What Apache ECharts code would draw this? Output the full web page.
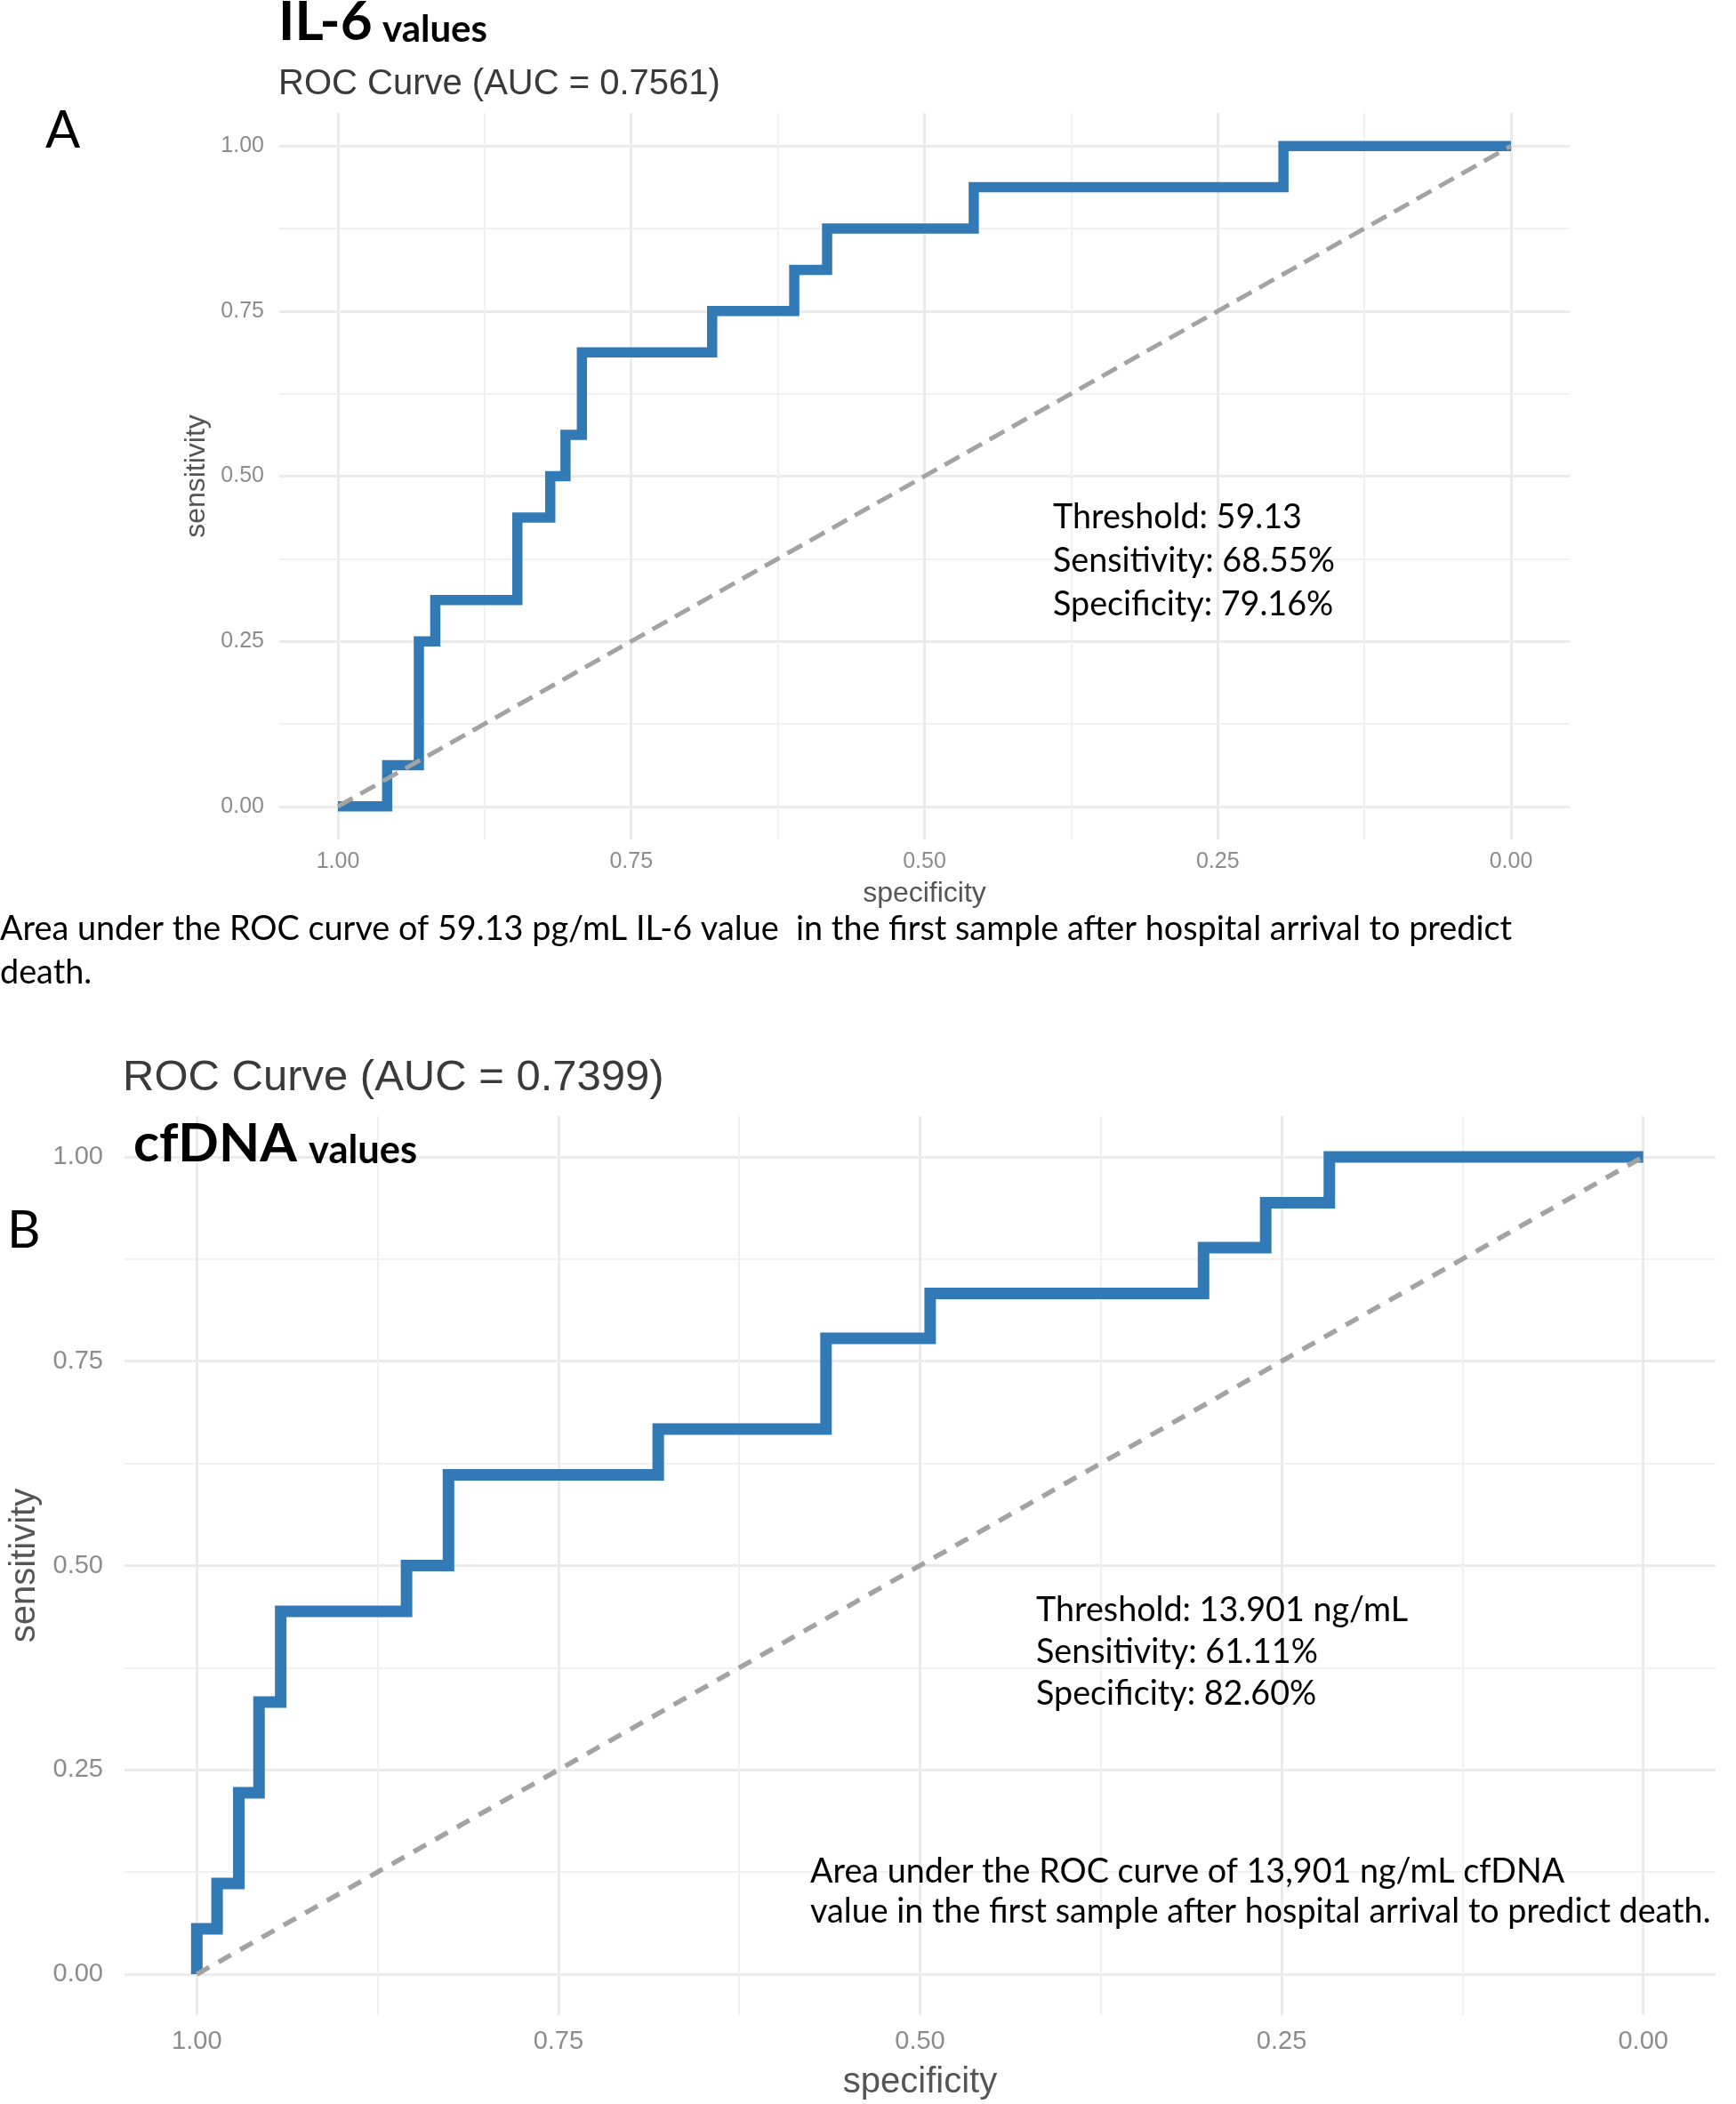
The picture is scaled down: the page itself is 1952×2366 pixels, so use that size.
<!DOCTYPE html>
<html>
<head>
<meta charset="utf-8">
<script src="https://cdn.jsdelivr.net/npm/echarts@6/dist/echarts.min.js"></script>
<style>
html,body{margin:0;padding:0;background:#ffffff;}
#chart{width:1952px;height:2366px;}
</style>
</head>
<body>
<div id="chart"></div>
<script>
// ---------- DATA ----------
const majorTicks = [0, 0.25, 0.5, 0.75, 1];
const minorTicks = [0.125, 0.375, 0.625, 0.875];

// Panel A: IL-6 ROC curve (specificity on x, sensitivity on y)
const il6Specificity = [1.000, 0.958, 0.931, 0.917, 0.847, 0.819, 0.806, 0.792, 0.681, 0.611, 0.583, 0.458, 0.194, 0.000];
const il6Sensitivity = [0.000, 0.0625, 0.250, 0.3125, 0.4375, 0.500, 0.5625, 0.6875, 0.750, 0.8125, 0.875, 0.9375, 1.000, 1.000];

// Panel B: cfDNA ROC curve
const cfSpecificity = [1.000, 1.000, 0.986, 0.971, 0.957, 0.942, 0.855, 0.826, 0.681, 0.565, 0.493, 0.304, 0.261, 0.217, 0.000];
const cfSensitivity = [0.000, 0.0556, 0.111, 0.222, 0.333, 0.444, 0.500, 0.611, 0.667, 0.778, 0.833, 0.889, 0.944, 1.000, 1.000];

// Reference (chance) diagonal
const refSpecificity = [1, 0];
const refSensitivity = [0, 1];

// ---------- CHART ----------
const chart = echarts.init(document.getElementById('chart'), null, {renderer: 'canvas'});
const pairs = (xs, ys) => xs.map((x, i) => [x, ys[i]]);
const fmt = v => Number(v).toFixed(2);

const BLUE = '#327ab6';
const DASH = '#a3a3a3';
const GRID_MAJOR = '#ebebeb';
const GRID_MINOR = '#f1f1f1';
const TICK = '#8c8c8c';
const AXTITLE = '#555555';

function majorX(gi, fs, margin, nameSize, nameGap) {
  return {
    gridIndex: gi, type: 'value', inverse: true, min: -0.05, max: 1.05, position: 'bottom',
    axisLine: {show: false}, axisTick: {show: false, customValues: majorTicks},
    axisLabel: {customValues: majorTicks, formatter: fmt, color: TICK, fontSize: fs, fontFamily: 'Liberation Sans', margin: margin},
    splitLine: {show: true, lineStyle: {color: GRID_MAJOR, width: 3}},
    name: 'specificity', nameLocation: 'middle', nameGap: nameGap,
    nameTextStyle: {color: AXTITLE, fontSize: nameSize, fontFamily: 'Liberation Sans'}
  };
}
function minorX(gi) {
  return {
    gridIndex: gi, type: 'value', inverse: true, min: -0.05, max: 1.05, position: 'top',
    axisLine: {show: false}, axisTick: {show: false, customValues: minorTicks},
    axisLabel: {show: false, customValues: minorTicks},
    splitLine: {show: true, lineStyle: {color: GRID_MINOR, width: 2}}
  };
}
function majorY(gi, fs, margin, nameSize, nameGap) {
  return {
    gridIndex: gi, type: 'value', min: -0.05, max: 1.05, position: 'left',
    axisLine: {show: false}, axisTick: {show: false, customValues: majorTicks},
    axisLabel: {customValues: majorTicks, formatter: fmt, color: TICK, fontSize: fs, fontFamily: 'Liberation Sans', margin: margin},
    splitLine: {show: true, lineStyle: {color: GRID_MAJOR, width: 3}},
    name: 'sensitivity', nameLocation: 'middle', nameGap: nameGap, nameRotate: 90,
    nameTextStyle: {color: AXTITLE, fontSize: nameSize, fontFamily: 'Liberation Sans'}
  };
}
function minorY(gi) {
  return {
    gridIndex: gi, type: 'value', min: -0.05, max: 1.05, position: 'right',
    axisLine: {show: false}, axisTick: {show: false, customValues: minorTicks},
    axisLabel: {show: false, customValues: minorTicks},
    splitLine: {show: true, lineStyle: {color: GRID_MINOR, width: 2}}
  };
}

function txt(x, y, text, size, opts) {
  opts = opts || {};
  return {
    type: 'text', x: x, y: y, z: 10, silent: true,
    style: {
      text: text, fontSize: size, fontFamily: opts.family || 'Lato',
      fontWeight: opts.weight || 'normal', fill: opts.color || '#000000',
      align: 'left', verticalAlign: 'middle'
    }
  };
}

const option = {
  backgroundColor: '#ffffff',
  animation: false,
  grid: [
    {left: 314, top: 127, width: 1451, height: 817},
    {left: 139, top: 1255, width: 1790, height: 1011}
  ],
  xAxis: [majorX(0, 25, 13, 32, 45), minorX(0), majorX(1, 29, 15, 40, 56), minorX(1)],
  yAxis: [majorY(0, 25, 17, 32, 76), minorY(0), majorY(1, 29, 24, 40, 92), minorY(1)],
  series: [
    {type: 'line', xAxisIndex: 0, yAxisIndex: 0, data: pairs(il6Specificity, il6Sensitivity),
     step: 'end', symbol: 'none', z: 3,
     lineStyle: {color: BLUE, width: 11.5, join: 'miter', cap: 'butt'}},
    {type: 'line', xAxisIndex: 0, yAxisIndex: 0, data: pairs(refSpecificity, refSensitivity),
     symbol: 'none', z: 4,
     lineStyle: {color: DASH, width: 5, type: [19, 10]}},
    {type: 'line', xAxisIndex: 2, yAxisIndex: 2, data: pairs(cfSpecificity, cfSensitivity),
     step: 'end', symbol: 'none', z: 3,
     lineStyle: {color: BLUE, width: 13, join: 'miter', cap: 'butt'}},
    {type: 'line', xAxisIndex: 2, yAxisIndex: 2, data: pairs(refSpecificity, refSensitivity),
     symbol: 'none', z: 4,
     lineStyle: {color: DASH, width: 5.5, type: [16, 12]}}
  ],
  graphic: [
    // Panel A
    txt(313, 25, 'IL-6', 62, {weight: 'bold'}),
    txt(430, 33, 'values', 42, {weight: 'bold'}),
    txt(313, 95, 'ROC Curve (AUC = 0.7561)', 40, {family: 'Liberation Sans', color: '#3a3a3a'}),
    txt(51, 147, 'A', 58),
    txt(1184, 582, 'Threshold: 59.13', 37.7),
    txt(1184, 631, 'Sensitivity: 68.55%', 37.7),
    txt(1184, 680, 'Specificity: 79.16%', 37.7),
    txt(0, 1045, 'Area under the ROC curve of 59.13 pg/mL IL-6 value  in the first sample after hospital arrival to predict', 37.8),
    txt(0, 1094, 'death.', 37.8),
    // Panel B
    txt(138, 1212, 'ROC Curve (AUC = 0.7399)', 49, {family: 'Liberation Sans', color: '#3a3a3a'}),
    txt(150, 1287, 'cfDNA', 60, {weight: 'bold'}),
    txt(347, 1294, 'values', 43.5, {weight: 'bold'}),
    txt(8, 1384, 'B', 58),
    txt(1165, 1811, 'Threshold: 13.901 ng/mL', 37.7),
    txt(1165, 1858, 'Sensitivity: 61.11%', 37.7),
    txt(1165, 1905, 'Specificity: 82.60%', 37.7),
    txt(911, 2105, 'Area under the ROC curve of 13,901 ng/mL cfDNA', 37.7),
    txt(911, 2150, 'value in the first sample after hospital arrival to predict death.', 37.7)
  ]
};
chart.setOption(option);
</script>
</body>
</html>
